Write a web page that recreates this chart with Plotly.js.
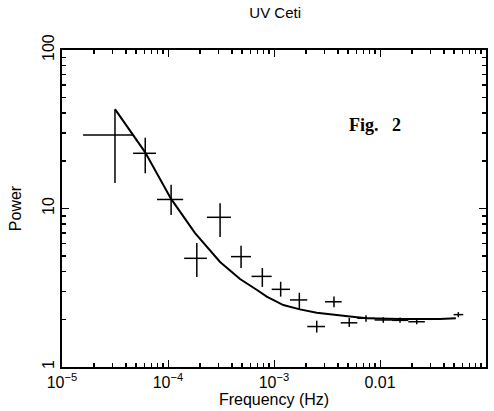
<!DOCTYPE html>
<html>
<head>
<meta charset="utf-8">
<script src="https://cdn.plot.ly/plotly-3.0.1.min.js"></script>
<style>html,body{margin:0;padding:0;background:#fff;}#chart{width:494px;height:411px;}</style>
</head>
<body>
<div id="chart"></div>
<script>
// Observed power spectrum points (frequency in Hz, power)
const freq   = [3.16e-5, 6.1e-5, 1.07e-4, 3.10e-4, 1.87e-4, 4.89e-4, 7.76e-4, 1.156e-3, 1.734e-3, 2.53e-3, 3.68e-3, 5.13e-3, 7.38e-3, 0.01074, 0.01545, 0.0222, 0.0548];
const power  = [29.1, 22.3, 11.4, 8.8, 4.85, 4.97, 3.73, 3.09, 2.65, 1.80, 2.58, 1.90, 2.03, 1.98, 1.97, 1.93, 2.14];
const freqLo = [1.58e-5, 4.68e-5, 7.87e-5, 2.33e-4, 1.42e-4, 3.93e-4, 6.14e-4, 9.51e-4, 1.416e-3, 2.06e-3, 3.03e-3, 4.26e-3, 6.11e-3, 8.9e-3, 0.0129, 0.0185, 0.0495];
const freqHi = [4.68e-5, 7.7e-5, 1.39e-4, 3.93e-4, 2.33e-4, 6.07e-4, 9.51e-4, 1.416e-3, 2.06e-3, 3.03e-3, 4.35e-3, 6.11e-3, 8.9e-3, 0.0129, 0.0185, 0.0265, 0.061];
const powLo  = [14.5, 16.7, 9.1, 6.6, 3.70, 4.21, 3.20, 2.78, 2.32, 1.65, 2.38, 1.79, 1.93, 1.90, 1.90, 1.86, 2.06];
const powHi  = [42.0, 27.9, 14.1, 10.8, 6.06, 5.82, 4.21, 3.45, 2.94, 1.96, 2.78, 2.04, 2.12, 2.06, 2.05, 2.01, 2.22];

// Model curve
const modelFreq  = [3.16e-5, 6.07e-5, 1.07e-4, 1.80e-4, 3.10e-4, 4.78e-4, 6.92e-4, 8.54e-4, 1.225e-3, 1.758e-3, 2.53e-3, 3.61e-3, 5.21e-3, 7.50e-3, 0.01545, 0.0368, 0.052];
const modelPower = [42.4, 22.7, 11.5, 7.0, 4.60, 3.59, 3.06, 2.78, 2.46, 2.31, 2.20, 2.13, 2.08, 2.03, 2.01, 2.01, 2.03];

const xTickVals = [1e-5, 1e-4, 1e-3, 0.01, 0.1];
const xTickText = ['10<sup>\u22125</sup>', '10<sup>\u22124</sup>', '10<sup>\u22123</sup>', '0.01', '0.1'];
const yTickVals = [1, 10, 100];
const yTickText = ['1', '10', '100'];

// positions of the small ticks (digits 2..9 of each decade)
const xMinorVals = [];
for (const d of [1e-5, 1e-4, 1e-3, 1e-2]) for (let m = 2; m <= 9; m++) xMinorVals.push(m * d);
const yMinorVals = [];
for (const d of [1, 10]) for (let m = 2; m <= 9; m++) yMinorVals.push(m * d);

const font = 'Liberation Sans, Arial, sans-serif';

const traces = [
  {
    x: modelFreq, y: modelPower, mode: 'lines', type: 'scatter',
    line: {color: '#000', width: 2}, hoverinfo: 'skip', showlegend: false
  },
  {
    x: freq, y: power, mode: 'markers', type: 'scatter',
    marker: {size: 1, color: '#000'},
    error_x: {type: 'data', symmetric: false,
      array: freqHi.map((v, i) => v - freq[i]),
      arrayminus: freq.map((v, i) => v - freqLo[i]),
      width: 0, thickness: 1.5, color: '#000'},
    error_y: {type: 'data', symmetric: false,
      array: powHi.map((v, i) => v - power[i]),
      arrayminus: power.map((v, i) => v - powLo[i]),
      width: 0, thickness: 1.5, color: '#000'},
    showlegend: false
  }
];

const layout = {
  width: 494, height: 411,
  margin: {l: 62, r: 8, t: 50, b: 44},
  showlegend: false,
  title: {text: 'UV Ceti', font: {family: font, size: 15, color: '#000'}, x: 0.557, xanchor: 'center', y: 0.968, yanchor: 'middle'},
  xaxis: {
    type: 'log', range: [-5, -1], showline: true, mirror: 'ticks', linecolor: '#000', linewidth: 2,
    ticks: 'inside', ticklen: 7, tickcolor: '#000', tickmode: 'array', tickvals: xTickVals, ticktext: xTickText,
    showgrid: false, tickfont: {family: font, size: 16, color: '#000'},
    minor: {tickmode: 'array', tickvals: xMinorVals, ticks: 'inside', ticklen: 4, tickcolor: '#000', tickwidth: 1.5},
    title: {text: 'Frequency (Hz)', font: {family: font, size: 16, color: '#000'}, standoff: 3}
  },
  yaxis: {
    type: 'log', range: [0, 2], showline: true, mirror: 'ticks', linecolor: '#000', linewidth: 2,
    ticks: 'inside', ticklen: 7, tickcolor: '#000', tickmode: 'array', tickvals: yTickVals, ticktext: yTickText,
    tickangle: -90, showgrid: false, tickfont: {family: font, size: 16, color: '#000'},
    minor: {tickmode: 'array', tickvals: yMinorVals, ticks: 'inside', ticklen: 4, tickcolor: '#000', tickwidth: 1.5},
    title: {text: 'Power', font: {family: font, size: 16, color: '#000'}, standoff: 14}
  },
  annotations: [{
    text: '<b>Fig.\u00A0\u00A0 2</b>', x: -2.311, y: 1.527, xref: 'x', yref: 'y',
    showarrow: false, font: {family: 'Liberation Serif, Times New Roman, serif', size: 18, color: '#000'},
    xanchor: 'left', yanchor: 'middle'
  }]
};

Plotly.newPlot('chart', traces, layout, {displayModeBar: false, staticPlot: true});
</script>
</body>
</html>
